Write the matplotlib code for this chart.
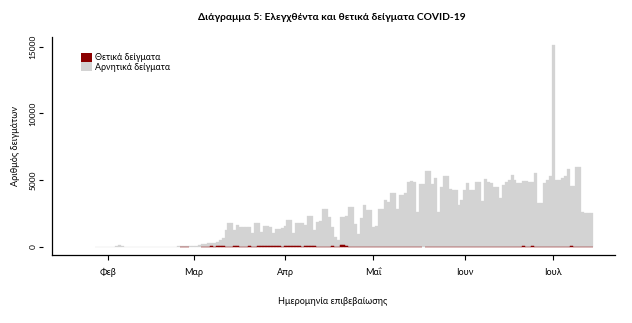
import matplotlib
matplotlib.use("Agg")
import matplotlib.pyplot as plt
import matplotlib.dates as mdates
from matplotlib.patches import Patch
from matplotlib.lines import Line2D
import numpy as np
import pandas as pd

plt.rcParams['font.family'] = ['Lato', 'DejaVu Sans']

# ---- data (daily totals of tested samples and positives) ----
start_date = "2020-01-28"

total_jan = [8, 6, 10, 8]
total_feb = [10, 12, 15, 90, 170, 40, 15, 12, 10, 12, 15, 10, 12, 10, 15,
             12, 10, 12, 15, 12, 10, 12, 15, 20, 40, 60, 80, 70, 90]
total_mar = [60, 80, 120, 250, 220, 300, 280, 320, 400, 500, 650, 1270, 1830,
             1830, 1300, 1650, 1520, 1520, 1500, 1480, 1075, 1770, 1770, 1150,
             1570, 1570, 1520, 1075, 1350, 1350, 1400]
total_apr = [1570, 2030, 2030, 1075, 1770, 1770, 1770, 1650, 2320, 2320, 1270,
             1900, 1950, 2830, 2830, 2230, 1520, 750, 525, 2280, 2280, 2300,
             3030, 3030, 1720, 975, 2200, 3150, 2780, 2780]
total_may = [1520, 1550, 2850, 2850, 3530, 3400, 4020, 4020, 2830, 3900, 3900,
             4020, 4900, 4950, 4900, 2650, 4700, 4700, 5700, 5700, 4750, 5150,
             2650, 4470, 5280, 5280, 4320, 4300, 4300, 3150, 3520]
total_jun = [4300, 4770, 4300, 4300, 4850, 4850, 3450, 5070, 4900, 4770, 4470,
             4470, 3650, 4650, 4900, 5050, 5400, 5050, 4820, 4820, 4970, 4970,
             4900, 4900, 5570, 3300, 3300, 4820, 5020, 5300]
total_jul = [15150, 5020, 5020, 5150, 5280, 5820, 4550, 4550, 6020, 6020, 2650,
             2570, 2570, 2570]

pos_jan = [0, 0, 0, 0]
pos_feb = [0] * 25 + [1, 2, 1, 0]
pos_mar = [0, 0, 0, 20, 30, 20, 40, 30, 40, 50, 60, 25, 32, 27, 38, 38, 21, 21,
           31, 46, 31, 23, 94, 71, 48, 78, 52, 71, 74, 64, 36]
pos_apr = [102, 50, 72, 100, 62, 60, 20, 62, 56, 70, 67, 25, 19, 14, 25, 15,
           42, 33, 9, 156, 150, 55, 18, 15, 11, 20, 10, 16, 15, 20]
pos_may = [10, 8, 3, 10, 3, 9, 2, 10, 15, 18, 12, 5, 10, 10, 4, 10, 12, 0, 16,
           10, 15, 25, 18, 21, 4, 7, 10, 16, 10, 11, 17]
pos_jun = [17, 4, 14, 13, 6, 13, 14, 22, 9, 20, 17, 17, 2, 9, 16, 27, 15, 14,
           6, 19, 39, 18, 24, 50, 29, 13, 27, 22, 27, 30]
pos_jul = [23, 24, 16, 32, 25, 19, 39, 20, 28, 24, 20, 26, 34, 30]

month_ticks = ["2020-02-01", "2020-03-01", "2020-04-01", "2020-05-01",
               "2020-06-01", "2020-07-01"]
month_labels = ["Φεβ", "Μαρ", "Απρ", "Μαΐ", "Ιουν", "Ιουλ"]
y_ticks = [0, 5000, 10000, 15000]

title = "Διάγραμμα 5: Ελεγχθέντα και θετικά δείγματα COVID-19"
xlabel = "Ημερομηνία επιβεβαίωσης"
ylabel = "Αριθμός δειγμάτων"
legend_labels = ["Θετικά δείγματα", "Αρνητικά δείγματα"]

# ---- build series ----
totals = np.array(total_jan + total_feb + total_mar + total_apr + total_may
                  + total_jun + total_jul, dtype=float)
positives = np.array(pos_jan + pos_feb + pos_mar + pos_apr + pos_may
                     + pos_jun + pos_jul, dtype=float)
negatives = totals - positives
dates = pd.date_range(start_date, periods=len(totals), freq="D")
xd = mdates.date2num(dates.to_pydatetime())

RED = "#8b0000"
GREY = "#d3d3d3"

W, H = 632, 323
fig = plt.figure(figsize=(W / 100, H / 100), dpi=100)
ax = fig.add_axes([52 / W, (H - 255) / H, (615 - 52) / W, (255 - 37) / H])

# stacked: negatives on top of positives
ax.bar(xd, negatives, bottom=positives, width=1.0, color=GREY,
       edgecolor=GREY, linewidth=0.2, zorder=1)
has_pos = positives > 0
ax.bar(xd[has_pos], positives[has_pos], width=1.0, color=RED, edgecolor=RED,
       linewidth=0.35, zorder=2)

feb1 = mdates.date2num(pd.Timestamp("2020-02-01").to_pydatetime())
ax.set_xlim(feb1 - 19.0, feb1 + 171.9)
ax.set_ylim(-599, 15726)

ax.set_xticks(mdates.date2num(pd.to_datetime(month_ticks).to_pydatetime()))
ax.set_xticklabels(month_labels)
ax.set_yticks(y_ticks)
ax.set_yticklabels([str(v) for v in y_ticks])

for s in ["top", "right"]:
    ax.spines[s].set_visible(False)
ax.spines["bottom"].set_linewidth(0.9)
ax.spines["left"].set_position(("outward", 6.5))
ax.spines["left"].set_visible(False)
ax.add_line(Line2D([0, 0], [0, 1], transform=ax.transAxes, color="black",
                   linewidth=0.9, clip_on=False))

ax.tick_params(axis="x", direction="out", length=3.5, width=0.8, pad=6,
               labelsize=6.6)
ax.tick_params(axis="y", direction="out", length=3, width=0.8, pad=1.5,
               labelsize=6, labelrotation=90)
for lab in ax.get_yticklabels():
    lab.set_va("center")

fig.text(332 / W, 1 - 17 / H, title, ha="center", va="center",
         fontsize=7.4, fontweight="bold")
fig.text(333 / W, 1 - 302 / H, xlabel, ha="center", va="center",
         fontsize=6.6)
fig.text(16 / W, 1 - 146 / H, ylabel, ha="center", va="center",
         fontsize=6.6, rotation=90)

handles = [Patch(facecolor=RED, edgecolor="none"),
           Patch(facecolor=GREY, edgecolor="none")]
ax.legend(handles, legend_labels, loc="upper left",
          bbox_to_anchor=((79 - 52) / (615 - 52), 1 - (51 - 37) / (255 - 37)),
          frameon=False, fontsize=6.4, handlelength=1.3, handleheight=1.2,
          handletextpad=0.3, labelspacing=0.0, borderaxespad=0,
          borderpad=0.2)

fig.savefig("out.png", dpi=100)
